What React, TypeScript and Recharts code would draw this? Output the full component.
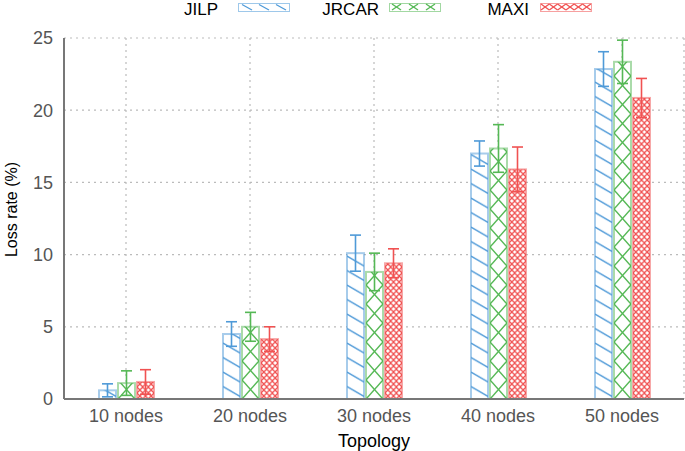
import React from "react";
import { BarChart, Bar, XAxis, YAxis, CartesianGrid, ErrorBar, Label } from "recharts";

// categories + values
const categories = ["10 nodes", "20 nodes", "30 nodes", "40 nodes", "50 nodes"];
const jilp = [0.6, 4.5, 10.1, 17.0, 22.85];
const jilpErr = [0.45, 0.85, 1.25, 0.87, 1.2];
const jrcar = [1.1, 5.0, 8.8, 17.35, 23.35];
const jrcarErr = [0.85, 1.0, 1.3, 1.65, 1.5];
const maxi = [1.18, 4.15, 9.4, 15.9, 20.85];
const maxiErr = [0.85, 0.85, 1.0, 1.55, 1.35];
const yTicks = [0, 5, 10, 15, 20, 25];

const BLUE = "#4f9ad8";
const GREEN = "#55b855";
const RED = "#f05252";
const FONT = '"Liberation Sans", Arial, Helvetica, sans-serif';

const data = categories.map((name, i) => ({
    name,
    jilp: jilp[i],
    jilpErr: jilpErr[i],
    jrcar: jrcar[i],
    jrcarErr: jrcarErr[i],
    maxi: maxi[i],
    maxiErr: maxiErr[i],
}));

type Kind = "lines" | "cross" | "fine";

const patternFor = (id: string, kind: Kind, x: number, y: number, w: number, color: string) => {
    if (kind === "lines") {
        return (
            <pattern id={id} patternUnits="userSpaceOnUse" x={x} y={y} width={w} height={14.5}>
                <line x1={0} y1={2} x2={w} y2={12} stroke={color} strokeWidth={1.5} />
            </pattern>
        );
    }
    if (kind === "cross") {
        return (
            <pattern id={id} patternUnits="userSpaceOnUse" x={x} y={y} width={w} height={19}>
                <line x1={0} y1={0} x2={w} y2={19} stroke={color} strokeWidth={1.5} />
                <line x1={w} y1={0} x2={0} y2={19} stroke={color} strokeWidth={1.5} />
            </pattern>
        );
    }
    const cw = w / 3;
    return (
        <pattern id={id} patternUnits="userSpaceOnUse" x={x} y={y} width={cw} height={6}>
            <line x1={0} y1={0} x2={cw} y2={6} stroke={color} strokeWidth={1.3} />
            <line x1={cw} y1={0} x2={0} y2={6} stroke={color} strokeWidth={1.3} />
        </pattern>
    );
};

// bar with its own pattern anchored at the bar's bottom-left corner
const patternBar = (kind: Kind, color: string) => (props: any) => {
    const { x, y, width, height, index } = props;
    if (!height || height <= 0) return <g />;
    const id = `pat-${kind}-${index}`;
    return (
        <g>
            <defs>{patternFor(id, kind, x, y + height, width, color)}</defs>
            <rect x={x} y={y} width={width} height={height} fill="#fff" />
            <rect
                x={x}
                y={y}
                width={width}
                height={height}
                fill={`url(#${id})`}
                stroke={color}
                strokeOpacity={0.5}
                strokeWidth={2}
            />
        </g>
    );
};

const legendItems = [
    { label: "JILP", kind: "lines" as Kind, color: BLUE, textRight: 218, swatchX: 238 },
    { label: "JRCAR", kind: "cross" as Kind, color: GREEN, textRight: 379, swatchX: 389 },
    { label: "MAXI", kind: "fine" as Kind, color: RED, textRight: 529, swatchX: 540 },
];

const Swatch = ({ kind, color }: { kind: Kind; color: string }) => {
    const w = 52;
    const h = 8;
    const marks: React.ReactNode[] = [];
    if (kind === "lines") {
        [0, 1, 2].forEach((i) => {
            const x0 = 4 + i * 17;
            marks.push(<line key={i} x1={x0} y1={1.5} x2={x0 + 10} y2={7} stroke={color} strokeWidth={1.3} />);
        });
    } else if (kind === "cross") {
        [0, 1, 2].forEach((i) => {
            const x0 = 3 + i * 17;
            marks.push(<line key={`a${i}`} x1={x0} y1={1} x2={x0 + 9} y2={7} stroke={color} strokeWidth={1.3} />);
            marks.push(<line key={`b${i}`} x1={x0 + 9} y1={1} x2={x0} y2={7} stroke={color} strokeWidth={1.3} />);
        });
    } else {
        [0, 1, 2, 3, 4, 5].forEach((i) => {
            const x0 = 1 + i * 8.3;
            marks.push(<line key={`a${i}`} x1={x0} y1={1} x2={x0 + 8.3} y2={7} stroke={color} strokeWidth={1.3} />);
            marks.push(<line key={`b${i}`} x1={x0 + 8.3} y1={1} x2={x0} y2={7} stroke={color} strokeWidth={1.3} />);
        });
    }
    return (
        <svg width={w} height={h + 1} style={{ display: "block" }}>
            <rect x={0.5} y={0.5} width={w - 1} height={h} fill="#fff" stroke={color} strokeOpacity={0.55} strokeWidth={1} />
            {marks}
        </svg>
    );
};

export default function App() {
    return (
        <div style={{ position: "absolute", left: 0, top: 0, width: 685, height: 451, background: "#fff", fontFamily: FONT }}>
            <BarChart
                width={685}
                height={451}
                data={data}
                margin={{ top: 38, right: 1, bottom: 0, left: 0 }}
                barCategoryGap={35}
                barGap={2}
                style={{ fontFamily: FONT }}
            >
                <CartesianGrid stroke="#bbb" strokeDasharray="2 4" strokeWidth={1.2} />
                <XAxis
                    dataKey="name"
                    height={52}
                    tickLine={false}
                    tickMargin={4}
                    axisLine={{ stroke: "#777", strokeWidth: 2 }}
                    tick={{ fill: "#555", fontSize: 18 }}
                >
                    <Label value="Topology" position="insideBottom" offset={4} fill="#000" fontSize={18} />
                </XAxis>
                <YAxis
                    width={64}
                    domain={[0, 25]}
                    ticks={yTicks}
                    tickLine={false}
                    tickMargin={5}
                    axisLine={{ stroke: "#777", strokeWidth: 2 }}
                    tick={{ fill: "#555", fontSize: 18 }}
                >
                    <Label
                        content={({ viewBox }: any) => {
                            const cy = viewBox.y + viewBox.height / 2 - 9;
                            return (
                                <text
                                    x={11.5}
                                    y={cy}
                                    transform={`rotate(-90, 11.5, ${cy})`}
                                    textAnchor="middle"
                                    dominantBaseline="central"
                                    fontSize={16}
                                    fill="#000"
                                >
                                    Loss rate (%)
                                </text>
                            );
                        }}
                    />
                </YAxis>
                <Bar dataKey="jilp" fill={BLUE} shape={patternBar("lines", BLUE)} isAnimationActive={false}>
                    <ErrorBar dataKey="jilpErr" width={5.5} stroke={BLUE} strokeWidth={1.6} direction="y" />
                </Bar>
                <Bar dataKey="jrcar" fill={GREEN} shape={patternBar("cross", GREEN)} isAnimationActive={false}>
                    <ErrorBar dataKey="jrcarErr" width={5.5} stroke={GREEN} strokeWidth={1.6} direction="y" />
                </Bar>
                <Bar dataKey="maxi" fill={RED} shape={patternBar("fine", RED)} isAnimationActive={false}>
                    <ErrorBar dataKey="maxiErr" width={5.5} stroke={RED} strokeWidth={1.6} direction="y" />
                </Bar>
            </BarChart>
            {legendItems.map((it) => (
                <React.Fragment key={it.label}>
                    <div
                        style={{
                            position: "absolute",
                            left: it.textRight - 100,
                            width: 100,
                            top: 1,
                            textAlign: "right",
                            fontSize: 17,
                            lineHeight: "17px",
                            color: "#000",
                        }}
                    >
                        {it.label}
                    </div>
                    <div style={{ position: "absolute", left: it.swatchX, top: 3 }}>
                        <Swatch kind={it.kind} color={it.color} />
                    </div>
                </React.Fragment>
            ))}
        </div>
    );
}
